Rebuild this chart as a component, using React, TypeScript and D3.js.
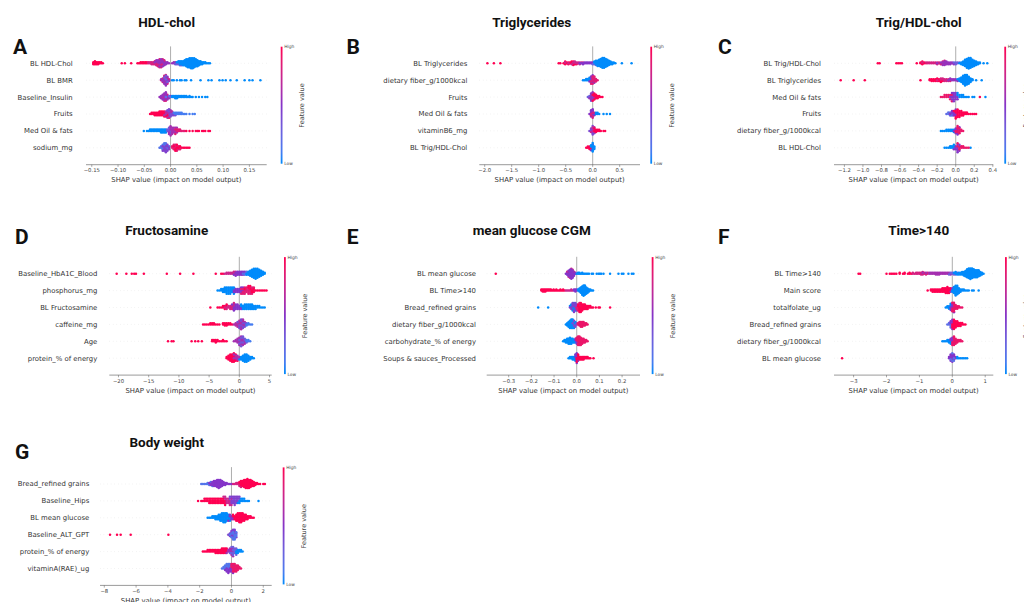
import React from "react";
import * as d3 from "d3";

// one group per feature-value colour: [feature value 0..1, SHAP values]
// a value written as [v, n] stands for n samples at v
type Val = number | [number, number];
type Group = [number, Val[]];

// ---------- A: HDL-chol
const hdlFeatures = ["BL HDL-Chol", "BL BMR", "Baseline_Insulin", "Fruits", "Med Oil & fats", "sodium_mg"];
const hdlTicks = [-0.15, -0.1, -0.05, 0, 0.05, 0.1, 0.15];
const hdlShap: Group[][] = [
  [
    [1, [[-0.147, 3], [-0.144, 4], [-0.141, 3], [-0.138, 3], [-0.135, 2], [-0.132, 2], -0.129, -0.093, -0.087, -0.075, -0.063, -0.06, [-0.057, 2], [-0.054, 2], [-0.051, 2], [-0.048, 2], [-0.045, 2]]],
    [0.8, [[-0.042, 2], [-0.039, 2], [-0.036, 3], [-0.033, 3], [-0.03, 3], [-0.027, 4], [-0.024, 5], [-0.021, 6], [-0.018, 6], [-0.015, 5], [-0.012, 3]]],
    [0.55, [-0.03, [-0.027, 2], [-0.024, 2], [-0.021, 3], [-0.018, 3], [-0.015, 3], [-0.012, 3], [-0.009, 3], [-0.006, 2], -0.003, 0.003, [0.006, 2], [0.009, 2]]],
    [0.3, [0.009, [0.012, 2], [0.015, 2], [0.018, 2], 0.021]],
    [0, [0.012, [0.015, 2], [0.018, 3], [0.021, 4], [0.024, 5], [0.027, 6], [0.03, 8], [0.033, 9], [0.036, 10], [0.039, 11], [0.042, 11], [0.045, 10], [0.048, 8], [0.051, 7], [0.054, 5], [0.057, 4], [0.06, 3], [0.063, 2], [0.066, 2], 0.069, 0.072, 0.075]],
  ],
  [
    [0.8, [-0.018, [-0.015, 3], [-0.012, 5], [-0.009, 6], [-0.006, 4], [-0.003, 2]]],
    [0.55, [-0.018, [-0.015, 2], [-0.012, 4], [-0.009, 5], [-0.006, 4], -0.003]],
    [0.3, [-0.012, [-0.009, 2], -0.006]],
    [0, [0.003, 0.006, 0.012, 0.018, 0.021, 0.027, 0.03, 0.039, 0.057, 0.072, 0.078, 0.093, 0.099, 0.105, 0.114, 0.126, 0.141, 0.15, 0.156, 0.171]],
  ],
  [
    [0.8, [-0.018, [-0.015, 2], [-0.012, 3], [-0.009, 3], [-0.006, 2]]],
    [0.55, [-0.021, [-0.018, 2], [-0.015, 3], [-0.012, 4], [-0.009, 4], [-0.006, 3], [-0.003, 2], 0]],
    [0.2, [-0.009, -0.003, 0]],
    [0, [[0.003, 2], [0.006, 2], [0.009, 3], [0.012, 3], [0.015, 2], [0.018, 2], [0.021, 2], [0.024, 2], [0.027, 2], [0.03, 2], 0.033, [0.036, 2], 0.039, 0.042, 0.048, 0.054, 0.06, 0.066, 0.07]],
  ],
  [
    [1, [-0.039, [-0.036, 2], [-0.033, 2], [-0.03, 3], [-0.027, 3], [-0.024, 3], [-0.021, 4], [-0.018, 4], [-0.015, 4], [-0.012, 4], [-0.009, 3], [-0.006, 3], [-0.003, 2]]],
    [0.65, [-0.012, [-0.009, 2], [-0.006, 3], [-0.003, 4], [0, 3], [0.003, 2]]],
    [0.4, [-0.006, [-0.003, 2], [0, 3], [0.003, 2], [0.006, 2], 0.009]],
    [0.1, [0.006, [0.009, 2], [0.012, 2], [0.015, 2], [0.018, 2], [0.021, 2], 0.024, 0.027, 0.03, 0.036, 0.042, 0.046]],
  ],
  [
    [0, [-0.051, -0.045, -0.042, [-0.039, 2], [-0.036, 2], [-0.033, 2], [-0.03, 2], [-0.027, 2], [-0.024, 2], [-0.021, 2], [-0.018, 3], [-0.015, 3], [-0.012, 3], [-0.009, 3]]],
    [0.35, [[-0.006, 2], [-0.003, 3], [0, 3]]],
    [0.6, [[-0.003, 2], [0, 4], [0.003, 5], [0.006, 4], [0.009, 3], [0.012, 2]]],
    [0.85, [[0.009, 2], [0.012, 2], [0.015, 2], [0.018, 2], 0.021, 0.024, 0.027]],
    [1, [0.03, 0.036, 0.042, 0.048, 0.051, 0.054, 0.06, 0.063, 0.066, 0.072, 0.075]],
  ],
  [
    [0.15, [-0.021, [-0.018, 2], [-0.015, 3], [-0.012, 3], [-0.009, 3], [-0.006, 2], -0.003]],
    [0.45, [[-0.015, 2], [-0.012, 3], [-0.009, 4], [-0.006, 3], [-0.003, 2]]],
    [0.85, [[0.003, 2], [0.006, 3], [0.009, 3], [0.012, 3], [0.015, 2], [0.018, 2]]],
    [1, [0.006, [0.009, 2], [0.012, 2], 0.015, 0.018, 0.021, 0.024, 0.027, 0.03, 0.033, 0.036]],
  ],
];

// ---------- B: Triglycerides
const trigFeatures = ["BL Triglycerides", "dietary fiber_g/1000kcal", "Fruits", "Med Oil & fats", "vitaminB6_mg", "BL Trig/HDL-Chol"];
const trigTicks = [-2, -1.5, -1, -0.5, 0, 0.5];
const trigShap: Group[][] = [
  [
    [1, [-1.95, -1.83, -1.71, -0.63, -0.6, -0.54, [-0.51, 3], [-0.48, 2], [-0.45, 2], [-0.42, 2], [-0.39, 3], [-0.36, 4], [-0.33, 2], -0.3]],
    [0.75, [-0.51, -0.45, -0.39, -0.36, [-0.33, 2], [-0.3, 2], [-0.27, 2], [-0.24, 2], -0.21, -0.18]],
    [0.5, [-0.24, -0.21, [-0.18, 2], [-0.15, 2], [-0.12, 2], [-0.09, 2], [-0.06, 2], [-0.03, 2], [0, 2]]],
    [0.25, [0, [0.03, 2], [0.06, 2], 0.09]],
    [0, [[0.03, 2], [0.06, 4], [0.09, 6], [0.12, 8], [0.15, 10], [0.18, 12], [0.21, 12], [0.24, 10], [0.27, 8], [0.3, 6], [0.33, 4], [0.36, 3], [0.39, 2], 0.42, 0.54, 0.72]],
  ],
  [
    [0, [-0.18, -0.15, [-0.12, 2], [-0.09, 2], [-0.06, 3], [-0.03, 2]]],
    [0.5, [-0.06, [-0.03, 3], [0, 3], [0.03, 2]]],
    [0.85, [[-0.03, 2], [0, 5], [0.03, 4], [0.06, 3], 0.09]],
  ],
  [
    [0.3, [-0.09, [-0.06, 2], [-0.03, 3], [0, 2]]],
    [0.55, [-0.06, [-0.03, 4], [0, 4], [0.03, 2]]],
    [1, [[0, 2], [0.03, 4], [0.06, 4], [0.09, 3], [0.12, 2], 0.15, 0.18]],
  ],
  [
    [0.5, [-0.06, [-0.03, 4], [0, 5], [0.03, 2]]],
    [0.8, [[-0.03, 2], [0, 3], 0.03]],
    [0, [[0.06, 2], [0.09, 2], 0.12, 0.2, 0.26, 0.32]],
  ],
  [
    [0.4, [-0.06, [-0.03, 3], [0, 5], [0.03, 2]]],
    [0.7, [-0.03, [0, 3], [0.03, 2]]],
    [1, [[0.03, 2], [0.06, 3], [0.09, 2], [0.12, 2], 0.15, 0.2, 0.23]],
  ],
  [
    [1, [-0.12, [-0.09, 2], [-0.06, 3], [-0.03, 2]]],
    [0.5, [-0.03, [0, 2]]],
    [0, [[-0.03, 2], [0, 6], [0.03, 3]]],
  ],
];

// ---------- C: Trig/HDL-chol
const ratioFeatures = ["BL Trig/HDL-Chol", "BL Triglycerides", "Med Oil & fats", "Fruits", "dietary fiber_g/1000kcal", "BL HDL-Chol"];
const ratioTicks = [-1.2, -1, -0.8, -0.6, -0.4, -0.2, 0, 0.2, 0.4];
const ratioShap: Group[][] = [
  [
    [1, [-0.84, -0.82, -0.64, -0.62, -0.6, -0.58, -0.42, [-0.38, 2], [-0.36, 3], [-0.34, 2], -0.32]],
    [0.8, [-0.36, -0.32, [-0.3, 2], [-0.28, 2], [-0.26, 2], [-0.24, 2], [-0.22, 2], [-0.2, 2], [-0.18, 2], [-0.16, 2], [-0.14, 3], [-0.12, 3]]],
    [0.55, [-0.2, -0.16, [-0.14, 2], [-0.12, 3], [-0.1, 4], [-0.08, 3], [-0.06, 3], [-0.04, 2], [-0.02, 2], 0]],
    [0.3, [-0.02, [0, 2], [0.02, 2], 0.04]],
    [0, [0.04, [0.06, 3], [0.08, 5], [0.1, 8], [0.12, 11], [0.14, 13], [0.16, 12], [0.18, 9], [0.2, 7], [0.22, 5], [0.24, 3], [0.26, 2], 0.3, 0.34]],
  ],
  [
    [1, [-1.24, -1.1, -0.98, -0.38, [-0.28, 2], [-0.26, 3], [-0.24, 3], [-0.22, 3], [-0.2, 3], [-0.18, 3], [-0.16, 3], [-0.14, 2]]],
    [0.8, [-0.2, [-0.16, 2], [-0.14, 2], [-0.12, 3], [-0.1, 3], [-0.08, 2], [-0.06, 2]]],
    [0.55, [-0.08, [-0.06, 2], [-0.04, 2], [-0.02, 2], [0, 2], [0.02, 2], 0.04]],
    [0, [0.02, [0.04, 3], [0.06, 6], [0.08, 10], [0.1, 13], [0.12, 12], [0.14, 9], [0.16, 5], [0.18, 2], 0.22, 0.28]],
  ],
  [
    [0.9, [-0.16, -0.14, [-0.12, 2], [-0.1, 2], [-0.08, 2], [-0.06, 2], [-0.04, 2]]],
    [0.5, [-0.06, [-0.04, 3], [-0.02, 5], [0, 4], [0.02, 2]]],
    [0, [[0.02, 2], [0.04, 2], [0.06, 2], [0.08, 2], 0.1, 0.12, 0.14, 0.18, 0.2, 0.32]],
    [1, [0.26]],
  ],
  [
    [0.2, [-0.1, [-0.08, 2], [-0.06, 2], [-0.04, 2]]],
    [0.5, [-0.06, [-0.04, 2], [-0.02, 3], [0, 3]]],
    [1, [-0.02, [0, 4], [0.02, 6], [0.04, 5], [0.06, 4], [0.08, 3], [0.1, 2], [0.12, 2], 0.14, 0.16, 0.18, 0.2, 0.22]],
  ],
  [
    [0, [-0.16, -0.14, -0.12, [-0.1, 2], [-0.08, 2], [-0.06, 2], [-0.04, 2], [-0.02, 2]]],
    [0.5, [-0.02, [0, 3], [0.02, 3], [0.04, 2]]],
    [0.9, [[0, 2], [0.02, 5], [0.04, 4], [0.06, 2], 0.08]],
  ],
  [
    [0, [-0.12, -0.1, -0.08, [-0.06, 2], [-0.04, 2], [-0.02, 3], 0.16]],
    [0.5, [-0.02, [0, 3], [0.02, 5], [0.04, 3]]],
    [0.9, [[0.02, 2], [0.04, 2], [0.06, 2], [0.08, 2], 0.1, 0.12, 0.14]],
  ],
];

// ---------- D: Fructosamine
const fructFeatures = ["Baseline_HbA1C_Blood", "phosphorus_mg", "BL Fructosamine", "caffeine_mg", "Age", "protein_% of energy"];
const fructTicks = [-20, -15, -10, -5, 0, 5];
const fructShap: Group[][] = [
  [
    [1, [-20.3, -18.7, -17.8, -17.4, -17.1, -15.8, -12, -9.8, -7.6, -3.9, -3, -2.7]],
    [0.75, [-2.4, [-2.1, 2], [-1.8, 2], [-1.5, 2], [-1.2, 2], [-0.9, 3], [-0.6, 3]]],
    [0.5, [-0.9, [-0.6, 2], [-0.3, 4], [0, 4], [0.3, 4], [0.6, 3], [0.9, 2]]],
    [0.2, [0.6, [0.9, 2], [1.2, 2]]],
    [0, [[1.2, 2], [1.5, 4], [1.8, 6], [2.1, 8], [2.4, 10], [2.7, 11], [3, 10], [3.3, 8], [3.6, 6], [3.9, 4], [4.2, 2]]],
  ],
  [
    [0, [-3.6, -3.3, [-3, 2], [-2.7, 3], [-2.4, 4], [-2.1, 5], [-1.8, 5], [-1.5, 5], [-1.2, 4], [-0.9, 3]]],
    [0.5, [[-0.9, 2], [-0.6, 3], [-0.3, 3], [0, 3], [0.3, 3], [0.6, 2]]],
    [0.85, [[0.3, 2], [0.6, 3], [0.9, 4], [1.2, 4], [1.5, 4], [1.8, 4], [2.1, 3], [2.4, 2]]],
    [1, [0.9, [1.5, 2], [1.8, 2], [2.1, 2], [2.4, 2], 2.7, 3, 3.3, 3.6, 3.9, 4.2, 4.5]],
  ],
  [
    [1, [-4.8, -3.6, -3.3, -3, [-2.7, 2], [-2.4, 2], [-2.1, 2]]],
    [0.8, [-2.4, [-2.1, 2], [-1.8, 2], [-1.5, 3], [-1.2, 3], [-0.9, 3]]],
    [0.5, [-1.2, [-0.9, 3], [-0.6, 4], [-0.3, 4], [0, 3], [0.3, 2]]],
    [0, [[0.3, 2], [0.6, 3], [0.9, 4], [1.2, 4], [1.5, 4], [1.8, 4], [2.1, 4], [2.4, 3], [2.7, 3], [3, 2], [3.3, 2], 3.6, 3.9, 4.2]],
  ],
  [
    [1, [-6, -5.7, -5.4, -5.1, [-4.8, 2], [-4.5, 2], [-4.2, 2], -3.9, -3.6, -3.3, [-2.7, 2], [-2.4, 3], [-2.1, 3], [-1.8, 2], [-1.5, 2], -1.2]],
    [0.65, [-0.9, [-0.6, 3], [-0.3, 4], [0, 5], [0.3, 6], [0.6, 5], [0.9, 3]]],
    [0.4, [-0.3, [0, 2], [0.3, 3], [0.6, 3], [0.9, 2], 1.2]],
    [0.1, [[1.2, 2], [1.5, 2], 1.8, 2.1]],
  ],
  [
    [1, [-11.8, -11.2, -10.9, -7.9, -7.3, -6.8, -6.2, [-4.5, 2], [-4.2, 2], [-3.9, 3], [-3.6, 2], -3.3, -3, [-2.7, 2], -2.4, -2.1]],
    [0.6, [-0.9, [-0.6, 2], [-0.3, 4], [0, 5], [0.3, 6], [0.6, 5], [0.9, 3]]],
    [0.35, [[0, 2], [0.3, 3], [0.6, 3], [0.9, 2], 1.2]],
    [0.1, [[1.2, 2], [1.5, 2], 1.8]],
  ],
  [
    [1, [[-2.1, 2], [-1.8, 4], [-1.5, 6], [-1.2, 7], [-0.9, 6], [-0.6, 4], [-0.3, 2]]],
    [0.6, [[-0.9, 2], [-0.6, 2], [-0.3, 3], [0, 2]]],
    [0, [0, [0.3, 3], [0.6, 5], [0.9, 7], [1.2, 7], [1.5, 5], [1.8, 3], [2.1, 2], 2.4]],
  ],
];

// ---------- E: mean glucose CGM
const cgmFeatures = ["BL mean glucose", "BL Time>140", "Bread_refined grains", "dietary fiber_g/1000kcal", "carbohydrate_% of energy", "Soups & sauces_Processed"];
const cgmTicks = [-0.3, -0.2, -0.1, 0, 0.1, 0.2];
const cgmShap: Group[][] = [
  [
    [1, [-0.357]],
    [0.75, [[-0.042, 2], [-0.036, 3], [-0.03, 4], [-0.024, 5], [-0.018, 4], [-0.012, 2]]],
    [0.5, [-0.048, [-0.042, 2], [-0.036, 4], [-0.03, 5], [-0.024, 6], [-0.018, 5], [-0.012, 3], [-0.006, 2]]],
    [0, [0, [0.006, 2], [0.012, 2], 0.018, [0.024, 2], 0.03, 0.036, 0.042, 0.048, 0.054, 0.066, 0.072, 0.088, 0.096, 0.102, 0.108, 0.118, 0.147, 0.184, 0.199, 0.206, 0.228, 0.243, 0.25]],
  ],
  [
    [1, [[-0.156, 2], [-0.15, 3], [-0.144, 3], [-0.138, 3], [-0.132, 2], [-0.126, 2], [-0.12, 2], [-0.114, 2], -0.108, [-0.102, 2], -0.096, [-0.09, 2], -0.084, -0.078, [-0.072, 2], -0.066, [-0.06, 2], -0.054]],
    [0.75, [-0.048, -0.042, -0.036, -0.03, [-0.024, 2], -0.018]],
    [0.5, [[-0.012, 2], [-0.006, 3], [0, 2]]],
    [0, [[0.006, 2], [0.012, 4], [0.018, 6], [0.024, 9], [0.03, 11], [0.036, 10], [0.042, 7], [0.048, 5], [0.054, 3], [0.06, 2], 0.066, 0.072]],
  ],
  [
    [0, [-0.17, -0.126, -0.03, [-0.024, 2], [-0.018, 3], [-0.012, 3], [-0.006, 2]]],
    [0.45, [-0.03, [-0.024, 2], [-0.018, 3], [-0.012, 4], [-0.006, 4], [0, 3]]],
    [0.85, [[0, 2], [0.006, 3], [0.012, 3], [0.018, 2]]],
    [1, [[0.006, 2], [0.012, 4], [0.018, 5], [0.024, 5], [0.03, 4], [0.036, 4], [0.042, 3], [0.048, 3], [0.054, 2], [0.06, 2], 0.066, 0.072, 0.084, 0.096, 0.102, 0.147]],
  ],
  [
    [0, [-0.048, [-0.042, 3], [-0.036, 5], [-0.03, 7], [-0.024, 8], [-0.018, 7], [-0.012, 5], [-0.006, 3]]],
    [0.4, [-0.018, [-0.012, 2], [-0.006, 2], [0, 2]]],
    [0.9, [[0.006, 2], [0.012, 4], [0.018, 5], [0.024, 5], [0.03, 4], [0.036, 3], [0.042, 2], 0.048]],
  ],
  [
    [0, [-0.06, [-0.054, 2], [-0.048, 3], [-0.042, 4], [-0.036, 5], [-0.03, 6], [-0.024, 5], [-0.018, 4], [-0.012, 3], [-0.006, 2]]],
    [0.5, [[-0.006, 2], [0, 3], [0.006, 2]]],
    [0.9, [[0, 3], [0.006, 6], [0.012, 8], [0.018, 7], [0.024, 5], [0.03, 4], [0.036, 3], [0.042, 2], 0.048]],
  ],
  [
    [0, [-0.036, [-0.03, 2], [-0.024, 2], [-0.018, 3], [-0.012, 3], [-0.006, 4]]],
    [0.5, [[-0.006, 2], [0, 6], [0.006, 3]]],
    [1, [[0, 3], [0.006, 3], [0.012, 3], [0.018, 3], [0.024, 3], [0.03, 3], [0.036, 2], [0.042, 2], [0.048, 2], 0.054, 0.06, 0.074]],
  ],
];

// ---------- F: Time>140
const t140Features = ["BL Time>140", "Main score", "totalfolate_ug", "Bread_refined grains", "dietary fiber_g/1000kcal", "BL mean glucose"];
const t140Ticks = [-3, -2, -1, 0, 1];
const t140Shap: Group[][] = [
  [
    [1, [-2.85, -2.8, -2, -1.9, -1.85, -1.8, -1.75, -1.7, [-1.6, 2], -1.5, [-1.45, 2], -1.35, [-1.3, 2], -1.25]],
    [0.8, [[-1.2, 2], -1.15, [-1.1, 2], [-1.05, 2], [-1, 2], [-0.95, 3], [-0.9, 3], [-0.85, 2], [-0.8, 2], [-0.75, 2]]],
    [0.6, [-0.9, -0.8, [-0.7, 2], [-0.65, 2], [-0.6, 2], [-0.55, 2], [-0.5, 3], [-0.45, 3], [-0.4, 3], [-0.35, 2], [-0.3, 2], [-0.25, 2], [-0.2, 2], [-0.15, 2], [-0.1, 2], [-0.05, 2]]],
    [0.3, [-0.1, -0.05, [0, 2], [0.05, 2], [0.1, 2], 0.15]],
    [0, [0.05, [0.1, 2], [0.15, 2], [0.2, 3], [0.25, 3], [0.3, 4], [0.35, 5], [0.4, 7], [0.45, 10], [0.5, 12], [0.55, 13], [0.6, 12], [0.65, 10], [0.7, 9], [0.75, 9], [0.8, 8], [0.85, 5], [0.9, 3], 0.95]],
  ],
  [
    [1, [-0.75, [-0.65, 2], [-0.6, 3], [-0.55, 3], [-0.5, 3], [-0.45, 3], [-0.4, 3], [-0.35, 3], [-0.3, 4], [-0.25, 4], [-0.2, 5], [-0.15, 6], [-0.1, 5], [-0.05, 3]]],
    [0.5, [-0.05, [0, 2]]],
    [0, [[0, 2], [0.05, 6], [0.1, 9], [0.15, 8], [0.2, 5], [0.25, 3], [0.3, 2], [0.35, 2], 0.4, 0.45, 0.5, 0.6, 0.65, 0.8]],
  ],
  [
    [0, [-0.2, [-0.15, 2], [-0.1, 3], [-0.05, 4]]],
    [0.5, [[-0.05, 2], [0, 4], [0.05, 3]]],
    [0.9, [[0, 4], [0.05, 6], [0.1, 4], [0.15, 3], [0.2, 2], 0.25, 0.3]],
  ],
  [
    [0.2, [-0.15, [-0.1, 2], [-0.05, 3]]],
    [0.5, [[-0.05, 2], [0, 4]]],
    [1, [[0, 3], [0.05, 7], [0.1, 5], [0.15, 4], [0.2, 3], [0.25, 3], [0.3, 2], 0.35, 0.4]],
  ],
  [
    [0, [-0.3, -0.25, -0.2, [-0.15, 2], [-0.1, 3], [-0.05, 3]]],
    [0.5, [[-0.05, 2], [0, 4], [0.05, 2]]],
    [0.9, [[0, 3], [0.05, 6], [0.1, 5], [0.15, 3], [0.2, 2], [0.25, 2], 0.3]],
  ],
  [
    [1, [-3.35]],
    [0.5, [[-0.1, 2], [-0.05, 5], [0, 6], [0.05, 4], [0.1, 2]]],
    [0.2, [-0.05, [0, 2], [0.05, 2]]],
    [0, [[0.15, 2], 0.2, 0.25, 0.3, 0.35, 0.4, 0.45]],
  ],
];

// ---------- G: Body weight
const bwFeatures = ["Bread_refined grains", "Baseline_Hips", "BL mean glucose", "Baseline_ALT_GPT", "protein_% of energy", "vitaminA(RAE)_ug"];
const bwTicks = [-8, -6, -4, -2, 0, 2];
const bwShap: Group[][] = [
  [
    [0.15, [-1.9, -1.8, -1.7, -1.6, [-1.5, 2], [-1.4, 2], [-1.3, 2], [-1.2, 2], [-1.1, 2]]],
    [0.5, [-1.4, [-1.3, 2], [-1.2, 3], [-1.1, 4], [-1, 6], [-0.9, 8], [-0.8, 9], [-0.7, 8], [-0.6, 6], [-0.5, 4], [-0.4, 3], [-0.3, 2], -0.2, -0.1, 0]],
    [0.8, [0.1, 0.2, [0.3, 2], [0.4, 2], [0.5, 3], [0.6, 3]]],
    [1, [[0.5, 2], [0.6, 4], [0.7, 6], [0.8, 8], [0.9, 9], [1, 10], [1.1, 9], [1.2, 8], [1.3, 6], [1.4, 5], [1.5, 3], [1.6, 2], 1.7, 1.8, 2, 2.1]],
  ],
  [
    [1, [-2.1, -1.9, -1.8, [-1.7, 2], [-1.6, 2], [-1.5, 2], [-1.4, 3], [-1.3, 3], [-1.2, 3], [-1.1, 3], [-1, 3], [-0.9, 3], [-0.8, 3], [-0.7, 3], [-0.6, 3], [-0.5, 3], [-0.4, 3]]],
    [0.75, [-0.5, [-0.4, 2], [-0.3, 3], [-0.2, 3], [-0.1, 3], [0, 2]]],
    [0.45, [[-0.1, 2], [0, 3], [0.1, 4], [0.2, 5], [0.3, 4], [0.4, 3], [0.5, 2]]],
    [0, [0.4, [0.5, 2], [0.6, 2], [0.7, 2], [0.8, 2], 0.9, 1, 1.1, 1.7]],
  ],
  [
    [0, [-1.5, -1.4, -1.3, [-1.2, 2], [-1.1, 2], [-1, 3], [-0.9, 3], [-0.8, 4], [-0.7, 5], [-0.6, 6], [-0.5, 7], [-0.4, 7], [-0.3, 6], [-0.2, 4], [-0.1, 3]]],
    [0.5, [-0.2, [-0.1, 2], [0, 3], [0.1, 2]]],
    [1, [[0.1, 2], [0.2, 3], [0.3, 5], [0.4, 6], [0.5, 7], [0.6, 7], [0.7, 6], [0.8, 5], [0.9, 4], [1, 3], [1.1, 2], [1.2, 2], 1.3, 1.4]],
  ],
  [
    [1, [-7.64, -7.2, -6.97, -6.34, -3.97]],
    [0.45, [-0.2, [-0.1, 2], [0, 4], [0.1, 5], [0.2, 4], [0.3, 2]]],
    [0.15, [-0.1, [0, 2], [0.1, 4], [0.2, 5], [0.3, 3]]],
  ],
  [
    [1, [-1.8, -1.7, -1.6, [-1.5, 2], [-1.4, 2], [-1.3, 2], [-1.2, 2], [-1.1, 2], [-1, 3], [-0.9, 3], [-0.8, 3], [-0.7, 3], [-0.6, 4], [-0.5, 4], [-0.4, 4], [-0.3, 3]]],
    [0.6, [-0.3, [-0.2, 2], [-0.1, 3], [0, 4], [0.1, 3]]],
    [0.3, [-0.1, [0, 2], [0.1, 4], [0.2, 4], [0.3, 3]]],
    [0, [[0.3, 2], [0.4, 3], [0.5, 2], [0.6, 2], 0.7]],
  ],
  [
    [0.15, [-0.6, [-0.5, 2], [-0.4, 3], [-0.3, 4], [-0.2, 4], [-0.1, 3]]],
    [0.5, [-0.4, [-0.3, 2], [-0.2, 3], [-0.1, 3], [0, 3], [0.1, 2]]],
    [0.9, [[0, 3], [0.1, 5], [0.2, 6], [0.3, 5], [0.4, 4], [0.5, 2], 0.6]],
  ],
];

const ROW = 16.9;
const LABEL_FONT = "'DejaVu Sans', sans-serif";
const TITLE_FONT = "Roboto, 'Liberation Sans', sans-serif";

const color = d3
  .scaleLinear<string>()
  .domain([0, 0.5, 1])
  .range(["#008bfb", "#8534c8", "#ff0052"])
  .interpolate(d3.interpolateLab);

// shap-style beeswarm: put points in x bins, stack alternately up and down
function swarm(groups: Group[], step: number) {
  const pts = groups.flatMap(([fv, vals]) =>
    vals.flatMap((e) => (Array.isArray(e) ? d3.range(e[1]).map(() => e[0]) : [e])).map((v) => ({ v, fv }))
  );
  const q = pts.map((d) => Math.round(d.v / step));
  const mix = (i: number) => (i * 0.618034) % 1; // shuffle colours inside a bin
  const order = d3.range(pts.length).sort((a, b) => q[a] - q[b] || mix(a) - mix(b));
  const ys = new Array(pts.length).fill(0);
  let layer = 0;
  let last = NaN;
  for (const i of order) {
    if (q[i] !== last) layer = 0;
    ys[i] = Math.ceil(layer / 2) * ((layer % 2) * 2 - 1);
    layer++;
    last = q[i];
  }
  const k = ((0.9 * 0.4) / (d3.max(ys)! + 1)) * ROW;
  return pts.map((d, i) => ({ ...d, dy: ys[i] * k }));
}

const fmtMinus = (f: string) => (v: number) => d3.format(f)(v).replace("-", "\u2212");

const panels = [
  { letter: "A", title: "HDL-chol", features: hdlFeatures, shap: hdlShap, ticks: hdlTicks, fmt: ".2f", step: 0.003,
    domain: [-0.161, 0.183], range: [86, 266.7], titleX: 166.7, letterX: 13, labelX: 72.7, barX: 280.7, rowY: 63.3, titleY: 26.5, letterY: 53.5 },
  { letter: "B", title: "Triglycerides", features: trigFeatures, shap: trigShap, ticks: trigTicks, fmt: ".1f", step: 0.03,
    domain: [-2.1, 0.876], range: [479.3, 640], titleX: 531.7, letterX: 346.5, labelX: 467.3, barX: 650.3, rowY: 63.3, titleY: 26.5, letterY: 53.5 },
  { letter: "C", title: "Trig/HDL-chol", features: ratioFeatures, shap: ratioShap, ticks: ratioTicks, fmt: ".1f", step: 0.02,
    domain: [-1.312, 0.405], range: [834, 993.3], titleX: 918.7, letterX: 718, labelX: 821, barX: 1004.3, rowY: 63.3, titleY: 26.5, letterY: 53.5 },
  { letter: "D", title: "Fructosamine", features: fructFeatures, shap: fructShap, ticks: fructTicks, fmt: "d", step: 0.3,
    domain: [-21.52, 5.36], range: [109.3, 271.7], titleX: 166.7, letterX: 15, labelX: 97.3, barX: 284, rowY: 273.7, titleY: 234.5, letterY: 243.5 },
  { letter: "E", title: "mean glucose CGM", features: cgmFeatures, shap: cgmShap, ticks: cgmTicks, fmt: ".1f", step: 0.006,
    domain: [-0.397, 0.279], range: [486.7, 640], titleX: 531.7, letterX: 346.7, labelX: 476, barX: 651.7, rowY: 273.7, titleY: 234.5, letterY: 243.5 },
  { letter: "F", title: "Time>140", features: t140Features, shap: t140Shap, ticks: t140Ticks, fmt: "d", step: 0.05,
    domain: [-3.596, 1.246], range: [834, 993.3], titleX: 918.7, letterX: 718, labelX: 821, barX: 1005, rowY: 273.7, titleY: 234.5, letterY: 243.5 },
  { letter: "G", title: "Body weight", features: bwFeatures, shap: bwShap, ticks: bwTicks, fmt: "d", step: 0.1,
    domain: [-8.27, 2.53], range: [100, 271.7], titleX: 166.7, letterX: 15, labelX: 89.3, barX: 282.7, rowY: 484, titleY: 446.5, letterY: 458.5 },
];

function Panel({ p }: { p: (typeof panels)[number] }) {
  const x = d3.scaleLinear().domain(p.domain).range(p.range);
  const top = p.rowY - ROW;
  const axisY = p.rowY + 6 * ROW;
  const fmt = fmtMinus(p.fmt);
  const gid = "cb" + p.letter;
  return (
    <g>
      <text x={p.letterX} y={p.letterY} fontFamily={TITLE_FONT} fontWeight={700} fontSize={21} fill="#111">
        {p.letter}
      </text>
      <text x={p.titleX} y={p.titleY} textAnchor="middle" fontFamily={TITLE_FONT} fontWeight={700} fontSize={13.5} fill="#111">
        {p.title}
      </text>
      {p.features.map((f, i) => (
        <g key={f + i}>
          <line x1={p.range[0]} x2={p.range[1]} y1={p.rowY + i * ROW} y2={p.rowY + i * ROW}
            stroke="#d6d6d6" strokeWidth={0.5} strokeDasharray="0.6 3" />
          <text x={p.labelX} y={p.rowY + i * ROW} dy="0.35em" textAnchor="end"
            fontFamily={LABEL_FONT} fontSize={6.9} fill="#333">{f}</text>
        </g>
      ))}
      <line x1={x(0)} x2={x(0)} y1={top} y2={axisY} stroke="#999" strokeWidth={0.8} />
      {p.shap.map((groups, i) =>
        swarm(groups, p.step).map((d, j) => (
          <circle key={i + "-" + j} cx={x(d.v)} cy={p.rowY + i * ROW - d.dy} r={1.25} fill={color(d.fv)} />
        ))
      )}
      <line x1={p.range[0]} x2={p.range[1]} y1={axisY} y2={axisY} stroke="#555" strokeWidth={0.6} />
      {p.ticks.map((t) => (
        <g key={t} transform={`translate(${x(t)},${axisY})`}>
          <line y2={2.2} stroke="#555" strokeWidth={0.5} />
          <text y={7.6} textAnchor="middle" fontFamily={LABEL_FONT} fontSize={5.3} fill="#444">{fmt(t)}</text>
        </g>
      ))}
      <text x={(p.range[0] + p.range[1]) / 2} y={axisY + 17.5} textAnchor="middle"
        fontFamily={LABEL_FONT} fontSize={6.9} fill="#333">
        SHAP value (impact on model output)
      </text>
      <defs>
        <linearGradient id={gid} x1="0" y1="1" x2="0" y2="0">
          {d3.range(0, 1.01, 0.1).map((t) => (
            <stop key={t} offset={t} stopColor={color(t)} />
          ))}
        </linearGradient>
      </defs>
      <rect x={p.barX} y={top + 0.3} width={1.8} height={axisY - top - 1.3} fill={`url(#${gid})`} />
      <text x={p.barX + 3.5} y={top + 0.3} dy="0.35em" fontFamily={LABEL_FONT} fontSize={4.4} fill="#444">High</text>
      <text x={p.barX + 3.5} y={axisY - 1} dy="0.35em" fontFamily={LABEL_FONT} fontSize={4.4} fill="#444">Low</text>
      <text transform={`translate(${p.barX + 21},${(top + axisY) / 2}) rotate(-90)`} textAnchor="middle" dy="0.35em"
        fontFamily={LABEL_FONT} fontSize={6.5} fill="#444">Feature value</text>
    </g>
  );
}

export default function App() {
  return (
    <svg width={1024} height={602} style={{ position: "absolute", left: 0, top: 0, background: "#fff" }}>
      <rect width={1024} height={602} fill="#fff" />
      {panels.map((p) => (
        <Panel key={p.letter} p={p} />
      ))}
    </svg>
  );
}
